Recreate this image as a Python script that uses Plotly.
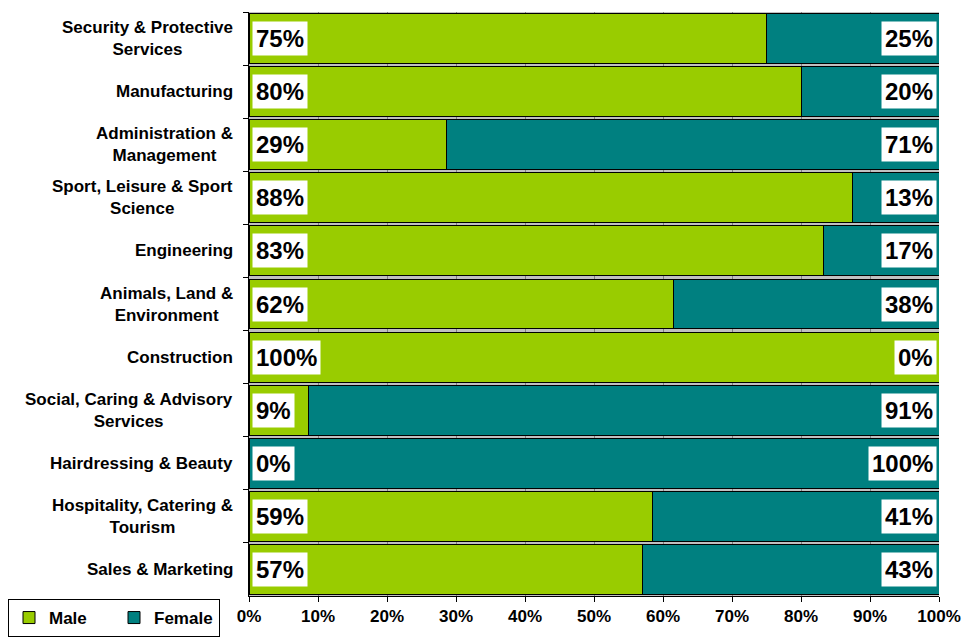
import plotly.graph_objects as go

categories = [
    "Security & Protective<br>Services",
    "Manufacturing",
    "Administration &<br>Management",
    "Sport, Leisure & Sport<br>Science",
    "Engineering",
    "Animals, Land &<br>Environment",
    "Construction",
    "Social, Caring & Advisory<br>Services",
    "Hairdressing & Beauty",
    "Hospitality, Catering &<br>Tourism",
    "Sales & Marketing",
]
male = [75.0, 80.0, 28.6, 87.5, 83.3, 61.5, 100.0, 8.6, 0.0, 58.5, 57.1]
female = [25.0, 20.0, 71.4, 12.5, 16.7, 38.5, 0.0, 91.4, 100.0, 41.5, 42.9]
male_labels = ["75%", "80%", "29%", "88%", "83%", "62%", "100%", "9%", "0%", "59%", "57%"]
female_labels = ["25%", "20%", "71%", "13%", "17%", "38%", "0%", "91%", "100%", "41%", "43%"]
x_ticks = [0, 10, 20, 30, 40, 50, 60, 70, 80, 90, 100]
x_tick_labels = [f"{v}%" for v in x_ticks]

FONT = "Liberation Sans, Arial, sans-serif"
MALE_C = "#99CC00"
FEMALE_C = "#008080"

fig = go.Figure()
fig.add_trace(go.Bar(
    y=categories, x=male, name="Male", orientation="h",
    marker=dict(color=MALE_C, line=dict(color="black", width=1)),
    hoverinfo="x+y",
))
fig.add_trace(go.Bar(
    y=categories, x=female, name="Female", orientation="h",
    marker=dict(color=FEMALE_C, line=dict(color="black", width=1)),
    hoverinfo="x+y",
))

annotations = []
for cat, ml, fl in zip(categories, male_labels, female_labels):
    annotations.append(dict(
        x=0, y=cat, xref="x", yref="y", text=ml, showarrow=False,
        xanchor="left", yanchor="middle", xshift=3,
        bgcolor="white", borderpad=3,
        font=dict(family=FONT, size=24, color="black", weight="bold"),
    ))
    annotations.append(dict(
        x=100, y=cat, xref="x", yref="y", text=fl, showarrow=False,
        xanchor="right", yanchor="middle", xshift=-2,
        bgcolor="white", borderpad=3,
        font=dict(family=FONT, size=24, color="black", weight="bold"),
    ))
    annotations.append(dict(
        x=0, y=cat, xref="paper", yref="y", text=cat, showarrow=False,
        xanchor="right", yanchor="middle", xshift=-14, align="center",
        font=dict(family=FONT, size=17, color="black", weight="bold"),
    ))

fig.update_layout(
    barmode="stack",
    bargap=0.06,
    width=965, height=642,
    margin=dict(l=249, r=26, t=12, b=46, autoexpand=False),
    paper_bgcolor="white",
    plot_bgcolor="#C0C0C0",
    font=dict(family=FONT, size=17, color="black", weight="bold"),
    annotations=annotations,
    showlegend=True,
    legend=dict(
        orientation="h", traceorder="normal",
        xref="container", yref="container",
        x=8 / 965, y=1 - 599 / 642, xanchor="left", yanchor="top",
        bordercolor="black", borderwidth=1, bgcolor="white",
        font=dict(family=FONT, size=17, color="black", weight="bold"),
        entrywidth=60, itemwidth=30,
    ),
    xaxis=dict(
        range=[0, 100], tickvals=x_ticks, ticktext=x_tick_labels,
        showgrid=True, gridcolor="#808080", gridwidth=1,
        ticks="outside", ticklen=5, tickcolor="black",
        showline=True, linecolor="black", linewidth=1,
        zeroline=False, fixedrange=True, automargin=False,
        tickfont=dict(family=FONT, size=17, color="black", weight="bold"),
    ),
    yaxis=dict(
        autorange="reversed", showticklabels=False,
        ticks="outside", ticklen=5, tickcolor="black", tickson="boundaries",
        showline=True, linecolor="black", linewidth=1,
        showgrid=False, fixedrange=True, automargin=False,
    ),
)

fig.write_html(
    "out.html",
    config={"displayModeBar": False},
    post_script="document.body.style.margin='0';document.body.style.overflow='hidden';",
)
